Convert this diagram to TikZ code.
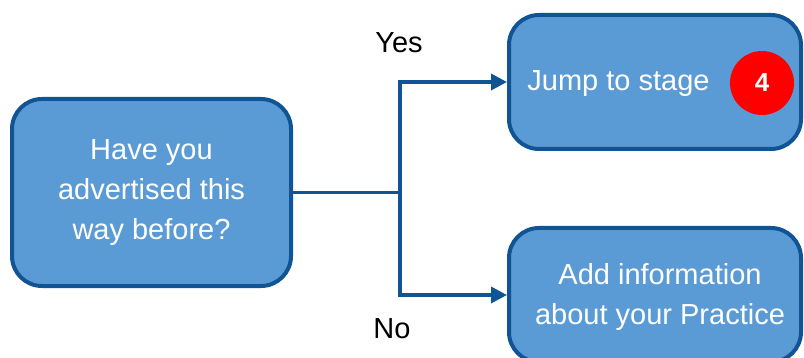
\documentclass[tikz,border=0pt]{standalone}
\usepackage{fontspec}
\setmainfont{Liberation Sans}
\usetikzlibrary{arrows.meta}
\definecolor{boxfill}{RGB}{91,155,213}
\definecolor{boxline}{RGB}{16,84,150}
\tikzset{
  flowbox/.style={draw=boxline, fill=boxfill, line width=2pt, rounded corners=15pt, text=white, align=center, inner sep=0pt},
  flowline/.style={draw=boxline, line width=1.75pt},
}
\begin{document}
\begin{tikzpicture}[x=0.5pt,y=-0.5pt,>={Triangle[length=8pt,width=8pt]},font=\fontsize{14.5}{20}\selectfont]
  \useasboundingbox (0,0) rectangle (804,358);
  \clip (0,0) rectangle (804,358);
  \node[flowbox, minimum width=139.5pt, minimum height=93.5pt] (question) at (151.5,192.5) {Have you\\advertised this\\way before?};
  \node[flowbox, minimum width=146pt, minimum height=67pt] (jump) at (655,82) {};
  \node[flowbox, minimum width=146pt, minimum height=67pt] (info) at (655,295) {};
  \node[anchor=base west, text=white, inner sep=0pt] (jumptext) at (527,91) {Jump to stage};
  \node[text=white, align=center, inner sep=0pt] (infotext) at (660,297) {Add information\\about your Practice};
  \node[circle, fill=red, minimum size=32pt, inner sep=0pt, text=white, font=\fontsize{13}{15}\selectfont\bfseries] (stage) at (762,83) {4};
  % yes / no split
  \coordinate (split) at (400,192.5);
  \draw[flowline] (question.east) -- (split);
  \draw[flowline,->] (split) |- (jump.west);
  \draw[flowline,->] (split) |- (info.west);
  \node (yes) at (399,43) {Yes};
  \node (no) at (392,329) {No};
\end{tikzpicture}
\end{document}
